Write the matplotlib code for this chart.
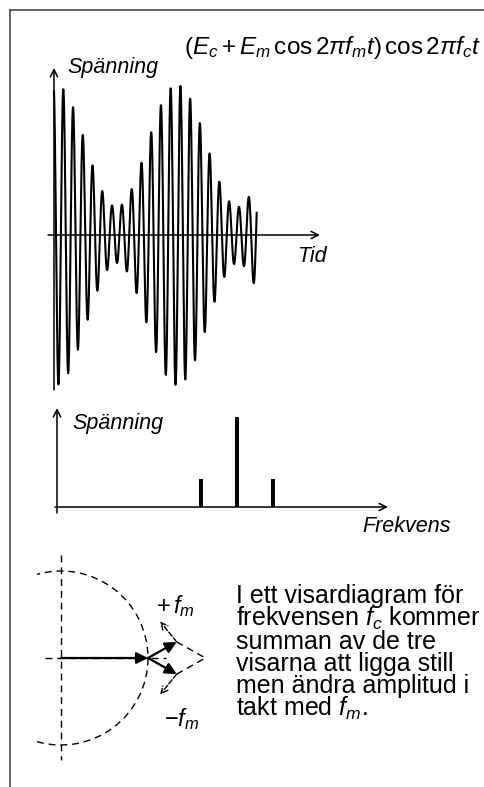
import numpy as np
import matplotlib
matplotlib.use('Agg')
import matplotlib.pyplot as plt
from matplotlib.lines import Line2D
from matplotlib.patches import Arc, FancyArrowPatch

plt.rcParams['font.family'] = ['Liberation Sans', 'DejaVu Sans']
plt.rcParams['mathtext.fontset'] = 'custom'
plt.rcParams['mathtext.rm'] = 'Liberation Sans'
plt.rcParams['mathtext.it'] = 'Liberation Sans:italic'
plt.rcParams['mathtext.bf'] = 'Liberation Sans:bold'
plt.rcParams['mathtext.fallback'] = 'stix'

# ---------------- data ----------------
# AM signal (E_c + E_m cos 2*pi*f_m*t) cos 2*pi*f_c*t
E_c = 0.89            # carrier amplitude
E_m = 0.61            # modulation amplitude
f_m = 1.0             # modulation frequency
f_c = 12.4            # carrier frequency
t_start = 0.0
t_end = 1.675
mod_delay = 0.017
carrier_delay = 0.077

# spectrum lines (f_c - f_m, f_c, f_c + f_m)
spec_freqs = [4.0, 5.0, 6.0]
spec_amps = [0.31, 1.0, 0.31]

# phasors (carrier and the two side-band phasors)
carrier_phasor = [1.0, 0.0]
upper_phasor = [0.33, 0.185]
lower_phasor = [0.33, -0.185]
rotation_arrow = [-0.19, 0.235]

body_lines = [
    'I ett visardiagram för',
    r'frekvensen $f_c$ kommer',
    'summan av de tre',
    'visarna att ligga still',
    'men ändra amplitud i',
    r'takt med $f_m$.',
]

# ---------------- figure ----------------
W, H = 485, 787
fig = plt.figure(figsize=(W / 100, H / 100), dpi=100)
fig.patch.set_facecolor('white')


def px_axes(x0, y0, x1, y1):
    ax = fig.add_axes([x0 / W, 1 - y1 / H, (x1 - x0) / W, (y1 - y0) / H])
    ax.set_axis_off()
    return ax


border_kw = dict(transform=fig.transFigure, color='#3a3a3a', lw=1.1)
fig.add_artist(Line2D([10.5 / W, 10.5 / W], [1 - 10 / H, 0], **border_kw))
fig.add_artist(Line2D([10.5 / W, 1], [1 - 10 / H, 1 - 10 / H], **border_kw))

arrow_kw = dict(arrowstyle='->', lw=1.1, color='black', shrinkA=0, shrinkB=0,
                mutation_scale=13)

# ---------------- waveform ----------------
ax1 = px_axes(40, 55, 340, 400)
ax1.set_xlim((40 - 54) / 121, (340 - 54) / 121)
ax1.set_ylim((235 - 400) / 100, (235 - 55) / 100)
t = np.linspace(t_start, t_end, 6000)
v = (E_c + E_m * np.cos(2 * np.pi * f_m * (t - mod_delay))) * \
    np.cos(2 * np.pi * f_c * (t - carrier_delay))
ax1.plot(t, v, color='black', lw=1.5)
ax1.annotate('', xy=((320 - 54) / 121, 0), xytext=((48 - 54) / 121, 0),
             arrowprops=arrow_kw)
ax1.annotate('', xy=(0, (235 - 68) / 100), xytext=(0, (235 - 390) / 100),
             arrowprops=arrow_kw)
ax1.text((67 - 54) / 121, (235 - 67) / 100, 'Spänning', style='italic',
         fontsize=15.5, ha='left', va='center')
ax1.text((297 - 54) / 121, (235 - 256) / 100, 'Tid', style='italic',
         fontsize=15.5, ha='left', va='center')

fig.text(184 / W, 1 - 54 / H,
         r'$(E_c + E_m\,\mathrm{cos}\,2\pi f_m t)\,\mathrm{cos}\,2\pi f_c t$',
         fontsize=17.5, ha='left', va='baseline')

# ---------------- spectrum ----------------
ax2 = px_axes(40, 395, 400, 540)
ax2.set_xlim((40 - 57) / 36, (400 - 57) / 36)
ax2.set_ylim((507 - 540) / 90, (507 - 395) / 90)
ax2.bar(spec_freqs, spec_amps, width=4 / 36, color='black')
ax2.annotate('', xy=((388 - 57) / 36, 0), xytext=((55 - 57) / 36, 0),
             arrowprops=arrow_kw)
ax2.annotate('', xy=(0, (507 - 408) / 90), xytext=(0, (507 - 513) / 90),
             arrowprops=arrow_kw)
ax2.text((72 - 57) / 36, (507 - 423) / 90, 'Spänning', style='italic',
         fontsize=15.5, ha='left', va='center')
ax2.text((362 - 57) / 36, (507 - 527) / 90, 'Frekvens', style='italic',
         fontsize=15.5, ha='left', va='center')

# ---------------- phasor diagram ----------------
ax3 = px_axes(20, 540, 230, 775)
ax3.set_xlim((20 - 61) / 87, (230 - 61) / 87)
ax3.set_ylim((658 - 775) / 87, (658 - 540) / 87)
dash = (0, (5, 3.5))
ax3.plot([0, 0], [1.184, -1.172], color='black', lw=1.0, ls=dash)
ax3.plot([-0.184, 1.21], [0, 0], color='black', lw=1.0, ls=dash)
ax3.add_patch(Arc((0, 0), 2, 2, theta1=-106, theta2=106, color='black',
                  lw=1.0, ls=dash))

cx, cy = carrier_phasor
solid_kw = dict(arrowstyle='-|>', mutation_scale=17, lw=1.6, color='black',
                shrinkA=0, shrinkB=0)
ax3.add_patch(FancyArrowPatch((0, 0), (cx, cy), **solid_kw))
up_tip = (cx + upper_phasor[0], cy + upper_phasor[1])
lo_tip = (cx + lower_phasor[0], cy + lower_phasor[1])
ax3.add_patch(FancyArrowPatch((cx, cy), up_tip, **solid_kw))
ax3.add_patch(FancyArrowPatch((cx, cy), lo_tip, **solid_kw))
vertex = (cx + upper_phasor[0] + lower_phasor[0], cy + upper_phasor[1] + lower_phasor[1])
ax3.plot([up_tip[0], vertex[0], lo_tip[0]], [up_tip[1], vertex[1], lo_tip[1]],
         color='black', lw=1.0, ls=dash)
dashed_arrow = dict(arrowstyle='->', mutation_scale=12, lw=1.0, color='black',
                    shrinkA=0, shrinkB=0, linestyle='--')
ax3.add_patch(FancyArrowPatch(up_tip, (up_tip[0] + rotation_arrow[0],
                                       up_tip[1] + rotation_arrow[1]), **dashed_arrow))
ax3.add_patch(FancyArrowPatch(lo_tip, (lo_tip[0] + rotation_arrow[0],
                                       lo_tip[1] - rotation_arrow[1]), **dashed_arrow))
ax3.text((156 - 61) / 87, (658 - 606) / 87, r'$+\,f_m$', fontsize=17,
         ha='left', va='center')
ax3.text((164 - 61) / 87, (658 - 719) / 87, r'$-f_m$', fontsize=17,
         ha='left', va='center')

# ---------------- explanatory text ----------------
# (multi-line text: 'baseline' aligns the last line)
fig.text(236 / W, 1 - 716 / H, '\n'.join(body_lines), fontsize=18,
         ha='left', va='baseline', linespacing=0.88)

fig.savefig('out.png', dpi=100, facecolor='white')
